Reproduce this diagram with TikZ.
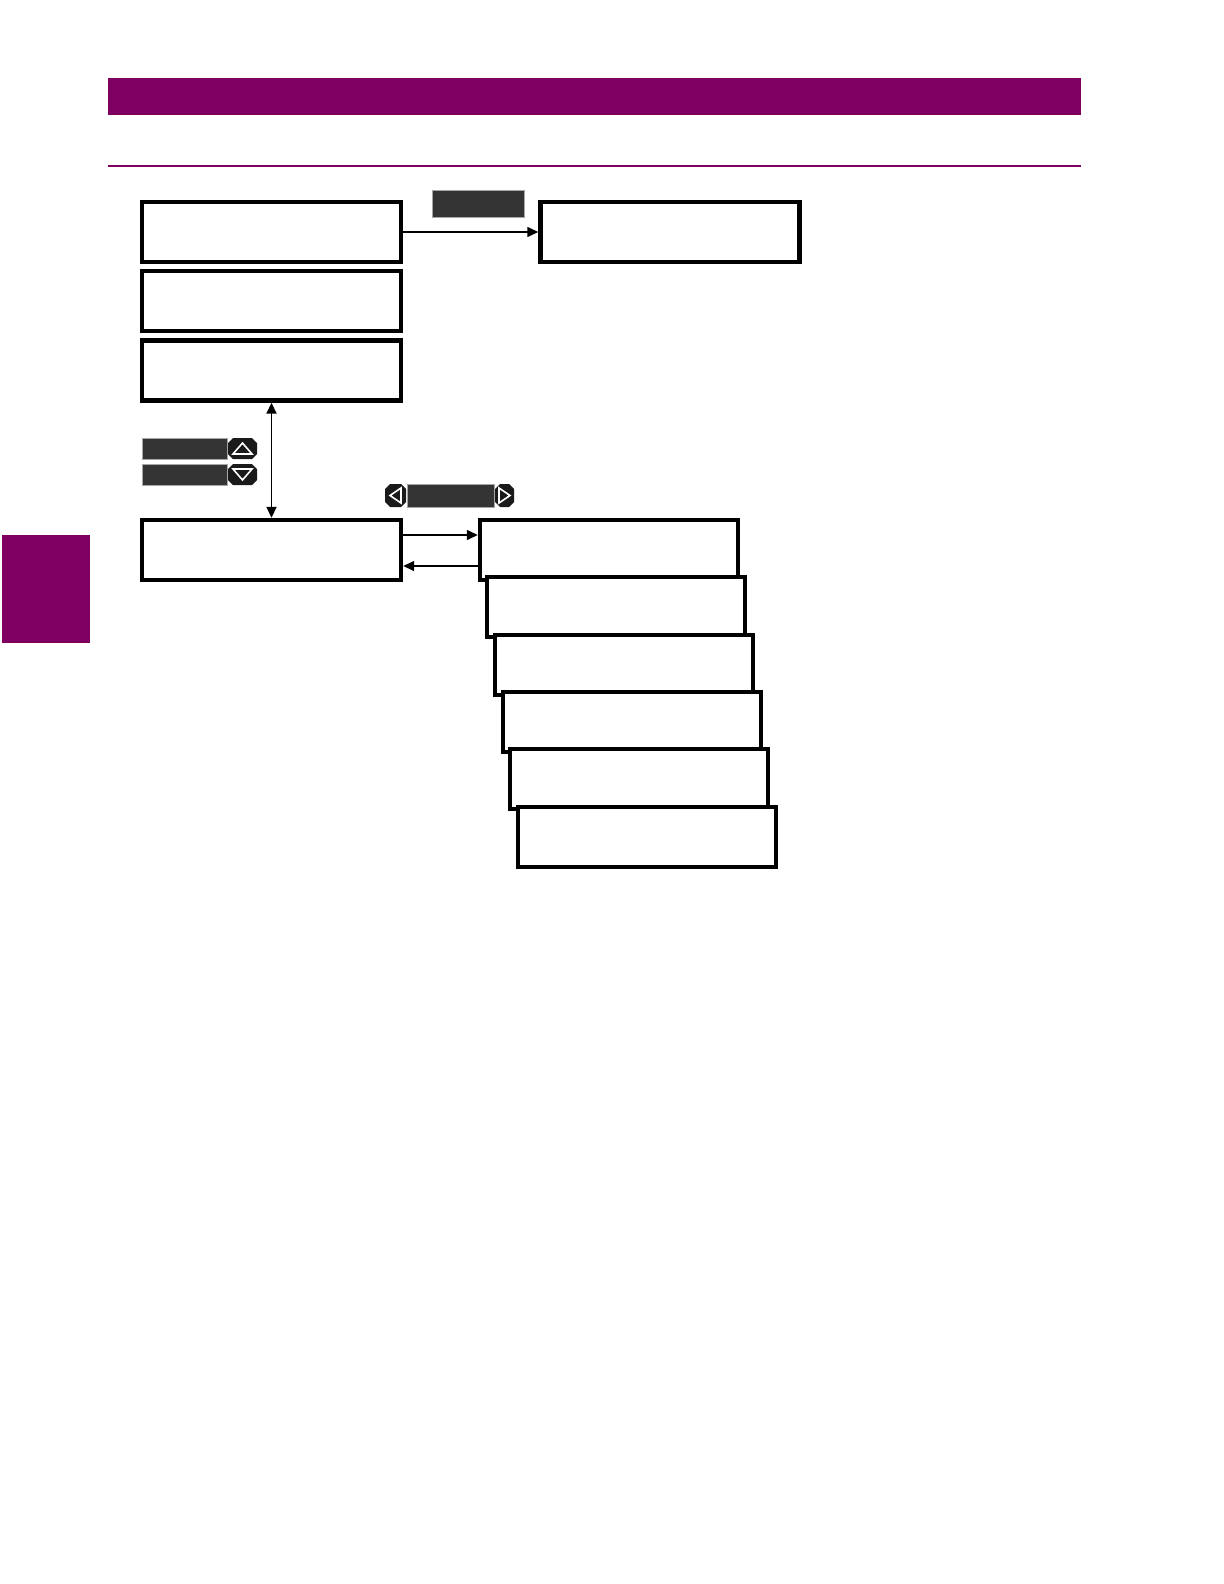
\documentclass[tikz,border=0pt]{standalone}
\usetikzlibrary{arrows.meta}
\definecolor{gepurple}{RGB}{128,0,98}
\definecolor{keygray}{RGB}{52,52,52}
\definecolor{btnblack}{RGB}{26,26,26}
\newcommand\keybtn[4]{% x1,y1,x2,y2 chamfered button
  \fill[btnblack] ({#1+5},#2) -- ({#3-5},#2) -- (#3,{#2+5}) -- (#3,{#4-5}) -- ({#3-5},#4) -- ({#1+5},#4) -- (#1,{#4-5}) -- (#1,{#2+5}) -- cycle;}
\begin{document}
\begin{tikzpicture}[x=0.5pt,y=-0.5pt,
  box/.style={draw=black,fill=white,line width=2.2pt,minimum width=129.5pt,minimum height=30pt,inner sep=0pt,anchor=center},
  keyrect/.style={draw=gray!70,line width=0.4pt,fill=keygray,inner sep=0pt,anchor=north west},
  conn/.style={line width=0.7pt,-{Triangle[length=5.5pt,width=5pt]}},
  tri/.style={draw=white,line width=0.8pt,line join=miter}]
\useasboundingbox (0,0) rectangle (1224,1584);
\fill[white] (0,0) rectangle (1224,1584);
% header
\fill[gepurple] (108,78) rectangle (1081,115);
\fill[gepurple] (108,165) rectangle (1081,167);
\fill[gepurple] (2,535) rectangle (90,643);
% left column boxes
\node[box] (b1) at (271.5,232) {};
\node[box] (b2) at (271.5,301) {};
\node[box] (b3) at (271.5,370.5) {};
\node[box] (b4) at (271.5,550) {};
\node[box] (r1) at (670,232) {};
% stacked boxes
\node[box,minimum width=129pt] (s1) at (609,550) {};
\node[box,minimum width=129pt] (s2) at (616,607) {};
\node[box,minimum width=129pt] (s3) at (624,665) {};
\node[box,minimum width=129pt] (s4) at (632,722) {};
\node[box,minimum width=129pt] (s5) at (639,779) {};
\node[box,minimum width=129pt] (s6) at (647,837) {};
% keys
\node[keyrect,minimum width=46pt,minimum height=13.5pt] (kenter) at (432,190) {};
\node[keyrect,minimum width=42.5pt,minimum height=10.5pt] (kup) at (142,438) {};
\node[keyrect,minimum width=42.5pt,minimum height=10.5pt] (kdown) at (142,464) {};
\node[keyrect,minimum width=43.5pt,minimum height=11.5pt] (klr) at (407,484) {};
\keybtn{228}{438}{257}{459}
\draw[tri] (233,454) -- (242.5,443) -- (252,454) -- cycle;
\keybtn{228}{464}{257}{485}
\draw[tri] (233,469) -- (242.5,480) -- (252,469) -- cycle;
\keybtn{385}{484}{406}{507}
\draw[tri] (401,488) -- (390,495.5) -- (401,503) -- cycle;
\keybtn{495}{484}{514}{507}
\draw[tri] (499,488) -- (510,495.5) -- (499,503) -- cycle;
% connectors
\draw[conn] (b1.east) -- (r1.west);
\draw[line width=0.9pt,{Triangle[length=5.5pt,width=5pt]}-{Triangle[length=5.5pt,width=5pt]}] (b3.south) -- (b4.north);
\draw[conn] ([yshift=7.5pt]b4.east) -- ([yshift=7.5pt]s1.west);
\draw[conn] ([yshift=-8pt]s1.west) -- ([yshift=-8pt]b4.east);
\end{tikzpicture}
\end{document}
